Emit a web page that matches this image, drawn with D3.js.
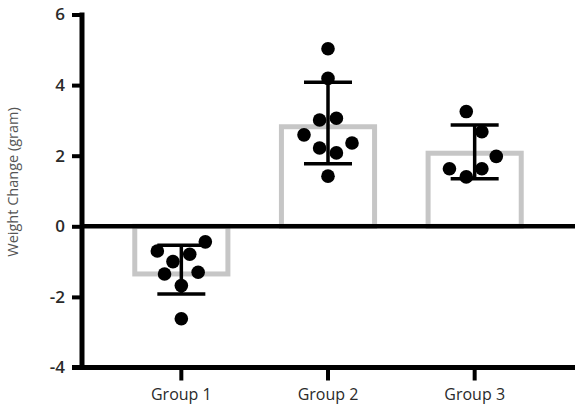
<!DOCTYPE html>
<html>
<head>
<meta charset="utf-8">
<script src="https://cdn.jsdelivr.net/npm/d3@7"></script>
<style>
  body { margin: 0; background: #fff; }
  text { font-family: "Open Sans", "Noto Sans", sans-serif; }
</style>
</head>
<body>
<div id="container"></div>
<script>
// Data
const groups = ['Group 1', 'Group 2', 'Group 3'];
const means = [-1.35, 2.82, 2.07];
const sdLow = [-1.92, 1.77, 1.35];
const sdHigh = [-0.54, 4.08, 2.87];

// individual points per group (value, horizontal spread in -1..1)
const points1 = [-0.44, -0.70, -0.79, -1.00, -1.35, -1.30, -1.68, -2.62];
const jitter1 = [1, -1, 0.35, -0.35, -0.7, 0.7, 0, 0];
const points2 = [5.03, 4.19, 3.01, 3.06, 2.59, 2.22, 2.08, 2.36, 1.42];
const jitter2 = [0, 0, -0.35, 0.35, -1, -0.35, 0.35, 1, 0];
const points3 = [3.25, 2.68, 1.98, 1.63, 1.63, 1.40];
const jitter3 = [-0.35, 0.3, 0.9, -1.05, 0.3, -0.35];

const yTicks = [-4, -2, 0, 2, 4, 6];

const width = 575;
const height = 410;

const svg = d3.select('#container').append('svg')
    .attr('width', width)
    .attr('height', height);

//Scales
const xScale = d3.scaleBand()
    .domain(groups)
    .range([108, 548])
    .paddingInner(0.365)
    .paddingOuter(0.1825);

const yScale = d3.scaleLinear()
    .domain([-4, 6])
    .range([367.5, 14.5]);

const jitterScale = d3.scaleLinear()
    .domain([-1, 1])
    .range([-24, 24]);

const center = g => xScale(g) + xScale.bandwidth() / 2;

//Bars (outline only)
svg.selectAll('rect.bar')
    .data(groups)
    .enter()
    .append('rect')
    .attr('class', 'bar')
    .attr('x', g => xScale(g))
    .attr('width', xScale.bandwidth())
    .attr('y', (g, i) => yScale(Math.max(0, means[i])))
    .attr('height', (g, i) => Math.abs(yScale(means[i]) - yScale(0)))
    .attr('fill', 'none')
    .attr('stroke', '#c6c6c6')
    .attr('stroke-width', 5);

//Zero line
svg.append('line')
    .attr('x1', 82)
    .attr('x2', width)
    .attr('y1', yScale(0))
    .attr('y2', yScale(0))
    .attr('stroke', '#000')
    .attr('stroke-width', 4.5);

//Points
const allPoints = [];
[[points1, jitter1], [points2, jitter2], [points3, jitter3]].forEach(([vals, jit], gi) => {
    vals.forEach((v, i) => allPoints.push({ group: groups[gi], value: v, jitter: jit[i] }));
});

svg.selectAll('circle.dot')
    .data(allPoints)
    .enter()
    .append('circle')
    .attr('class', 'dot')
    .attr('cx', d => center(d.group) + jitterScale(d.jitter))
    .attr('cy', d => yScale(d.value))
    .attr('r', 6.8)
    .attr('fill', '#000');

//Error bars
const errG = svg.append('g')
    .attr('stroke', '#000')
    .attr('stroke-width', 3.5);

groups.forEach((g, i) => {
    const cx = center(g);
    errG.append('line')
        .attr('x1', cx).attr('x2', cx)
        .attr('y1', yScale(sdLow[i])).attr('y2', yScale(sdHigh[i]));
    [sdLow[i], sdHigh[i]].forEach(v => {
        errG.append('line')
            .attr('x1', cx - 24).attr('x2', cx + 24)
            .attr('y1', yScale(v)).attr('y2', yScale(v));
    });
});

//Y-Axis
const yAxis = svg.append('g')
    .attr('transform', 'translate(82,0)')
    .call(d3.axisLeft(yScale).tickValues(yTicks).tickFormat(d => String(d))
        .tickSize(10).tickSizeOuter(0).tickPadding(7));

yAxis.select('.domain')
    .attr('stroke-width', 5)
    .attr('d', 'M0,' + (yScale(6) - 2) + 'V' + yScale(-4));
yAxis.selectAll('.tick line').attr('stroke-width', 4);
yAxis.selectAll('.tick text')
    .attr('font-size', 17)
    .attr('font-weight', 600)
    .attr('fill', '#2a2a2a')
    .style('font-family', '"Open Sans", sans-serif');

//X-Axis
const xAxis = svg.append('g')
    .attr('transform', 'translate(0,' + yScale(-4) + ')')
    .call(d3.axisBottom(xScale).tickSize(13).tickSizeOuter(0).tickPadding(8));

xAxis.select('.domain')
    .attr('stroke-width', 5)
    .attr('d', 'M72,0H' + width);
xAxis.selectAll('.tick line').attr('stroke-width', 4);
xAxis.selectAll('.tick text')
    .attr('font-size', 16)
    .attr('font-weight', 500)
    .attr('fill', '#2a2a2a')
    .style('font-family', '"Open Sans", sans-serif');

//Y label
svg.append('text')
    .attr('transform', 'rotate(-90)')
    .attr('x', -182)
    .attr('y', 18)
    .attr('text-anchor', 'middle')
    .attr('font-size', 14.5)
    .attr('fill', '#555')
    .text('Weight Change (gram)');
</script>
</body>
</html>
